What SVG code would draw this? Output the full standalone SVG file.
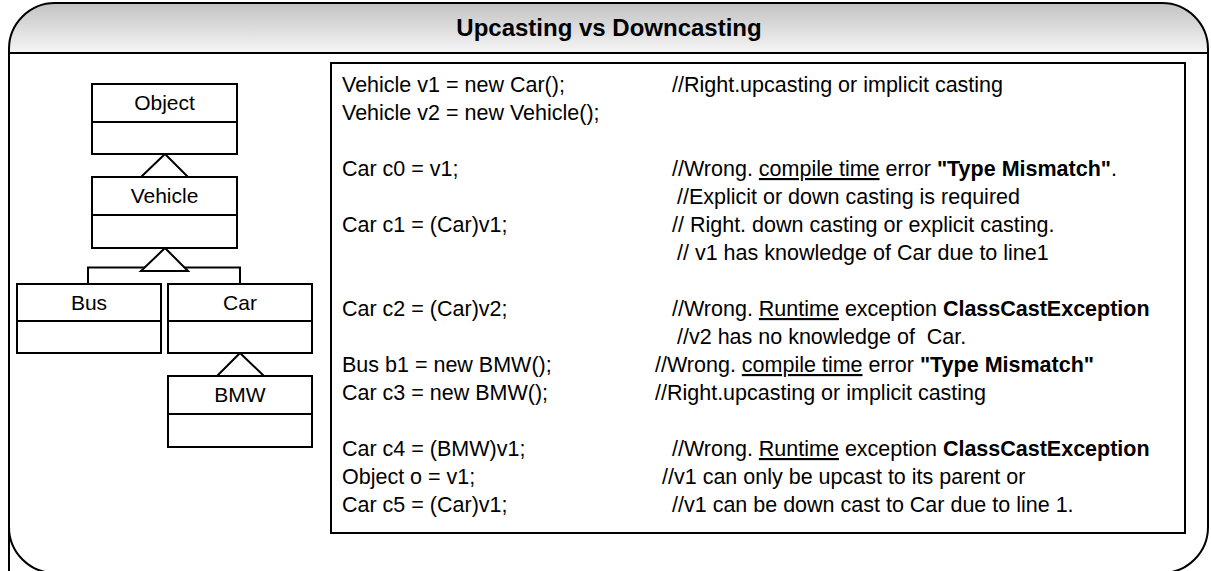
<svg xmlns="http://www.w3.org/2000/svg" width="1211" height="571" viewBox="0 0 1211 571">
<defs>
<linearGradient id="hdr" x1="0" y1="0" x2="0" y2="1">
<stop offset="0" stop-color="#c2c2c2"/>
<stop offset="1" stop-color="#f6f6f6"/>
</linearGradient>
</defs>
<style>
.ln{fill:none;stroke:#000;stroke-width:2}
.box{fill:#fff;stroke:#000;stroke-width:2}
.tri{fill:#fff;stroke:#000;stroke-width:2;stroke-linejoin:miter}
.lbl{font-family:"Liberation Sans",Arial,sans-serif;font-size:21px;fill:#000;text-anchor:middle}
.code{font-family:"Liberation Sans",Arial,sans-serif;font-size:21.5px;fill:#000;white-space:pre}
.title{font-family:"Liberation Sans",Arial,sans-serif;font-size:24px;font-weight:bold;fill:#000;text-anchor:middle}
.b{font-weight:bold}
.u{text-decoration:underline}
</style>
<g id="frame">
<path d="M9,53 V49 A46,46 0 0 1 55,3 H1162 A46,46 0 0 1 1208,49 V53 Z" fill="url(#hdr)"/>
<path class="ln" d="M9,573 V49 A46,46 0 0 1 55,3 H1162 A46,46 0 0 1 1208,49 V527 A46,46 0 0 1 1162,573 H55 A46,46 0 0 1 9,527 Z"/>
<line class="ln" x1="9" y1="53" x2="1208" y2="53"/>
<text class="title" x="609" y="36">Upcasting vs Downcasting</text>
</g>
<g id="connectors">
<polyline class="ln" points="88,284 88,267.5 240,267.5 240,284"/>
<polygon class="tri" points="165,154 188,177 141,177"/>
<polygon class="tri" points="165,248 188,271 141,271"/>
<polygon class="tri" points="240,353 264,376 217,376"/>
</g>
<g id="node-object">
<rect class="box" x="92" y="84" width="145" height="70"/>
<line class="ln" x1="92" y1="122" x2="237" y2="122"/>
<text class="lbl" x="164.5" y="110">Object</text>
</g>
<g id="node-vehicle">
<rect class="box" x="92" y="177" width="145" height="71"/>
<line class="ln" x1="92" y1="215" x2="237" y2="215"/>
<text class="lbl" x="164.5" y="203">Vehicle</text>
</g>
<g id="node-bus">
<rect class="box" x="17" y="284" width="144" height="69"/>
<line class="ln" x1="17" y1="321" x2="161" y2="321"/>
<text class="lbl" x="89" y="310">Bus</text>
</g>
<g id="node-car">
<rect class="box" x="168" y="284" width="144" height="69"/>
<line class="ln" x1="168" y1="321" x2="312" y2="321"/>
<text class="lbl" x="240" y="310">Car</text>
</g>
<g id="node-bmw">
<rect class="box" x="168" y="376" width="144" height="71"/>
<line class="ln" x1="168" y1="414" x2="312" y2="414"/>
<text class="lbl" x="240" y="402">BMW</text>
</g>
<g id="code">
<rect class="box" x="331" y="63" width="854" height="470"/>
<text class="code" x="342" y="92">Vehicle v1 = new Car();</text>
<text class="code" x="672" y="92">//Right.upcasting or implicit casting</text>
<text class="code" x="342" y="120">Vehicle v2 = new Vehicle();</text>
<text class="code" x="342" y="176">Car c0 = v1;</text>
<text class="code" x="672" y="176">//Wrong. <tspan class="u">compile time</tspan> error <tspan class="b">"Type Mismatch"</tspan>.</text>
<text class="code" x="677" y="204">//Explicit or down casting is required</text>
<text class="code" x="342" y="232">Car c1 = (Car)v1;</text>
<text class="code" x="672" y="232">// Right. down casting or explicit casting.</text>
<text class="code" x="677" y="260">// v1 has knowledge of Car due to line1</text>
<text class="code" x="342" y="316">Car c2 = (Car)v2;</text>
<text class="code" x="672" y="316">//Wrong. <tspan class="u">Runtime</tspan> exception <tspan class="b">ClassCastException</tspan></text>
<text class="code" x="677" y="344">//v2 has no knowledge of  Car.</text>
<text class="code" x="342" y="372">Bus b1 = new BMW();</text>
<text class="code" x="655" y="372">//Wrong. <tspan class="u">compile time</tspan> error <tspan class="b">"Type Mismatch"</tspan></text>
<text class="code" x="342" y="400">Car c3 = new BMW();</text>
<text class="code" x="655" y="400">//Right.upcasting or implicit casting</text>
<text class="code" x="342" y="456">Car c4 = (BMW)v1;</text>
<text class="code" x="672" y="456">//Wrong. <tspan class="u">Runtime</tspan> exception <tspan class="b">ClassCastException</tspan></text>
<text class="code" x="342" y="484">Object o = v1;</text>
<text class="code" x="662" y="484">//v1 can only be upcast to its parent or</text>
<text class="code" x="342" y="512">Car c5 = (Car)v1;</text>
<text class="code" x="672" y="512">//v1 can be down cast to Car due to line 1.</text>
</g>
</svg>
